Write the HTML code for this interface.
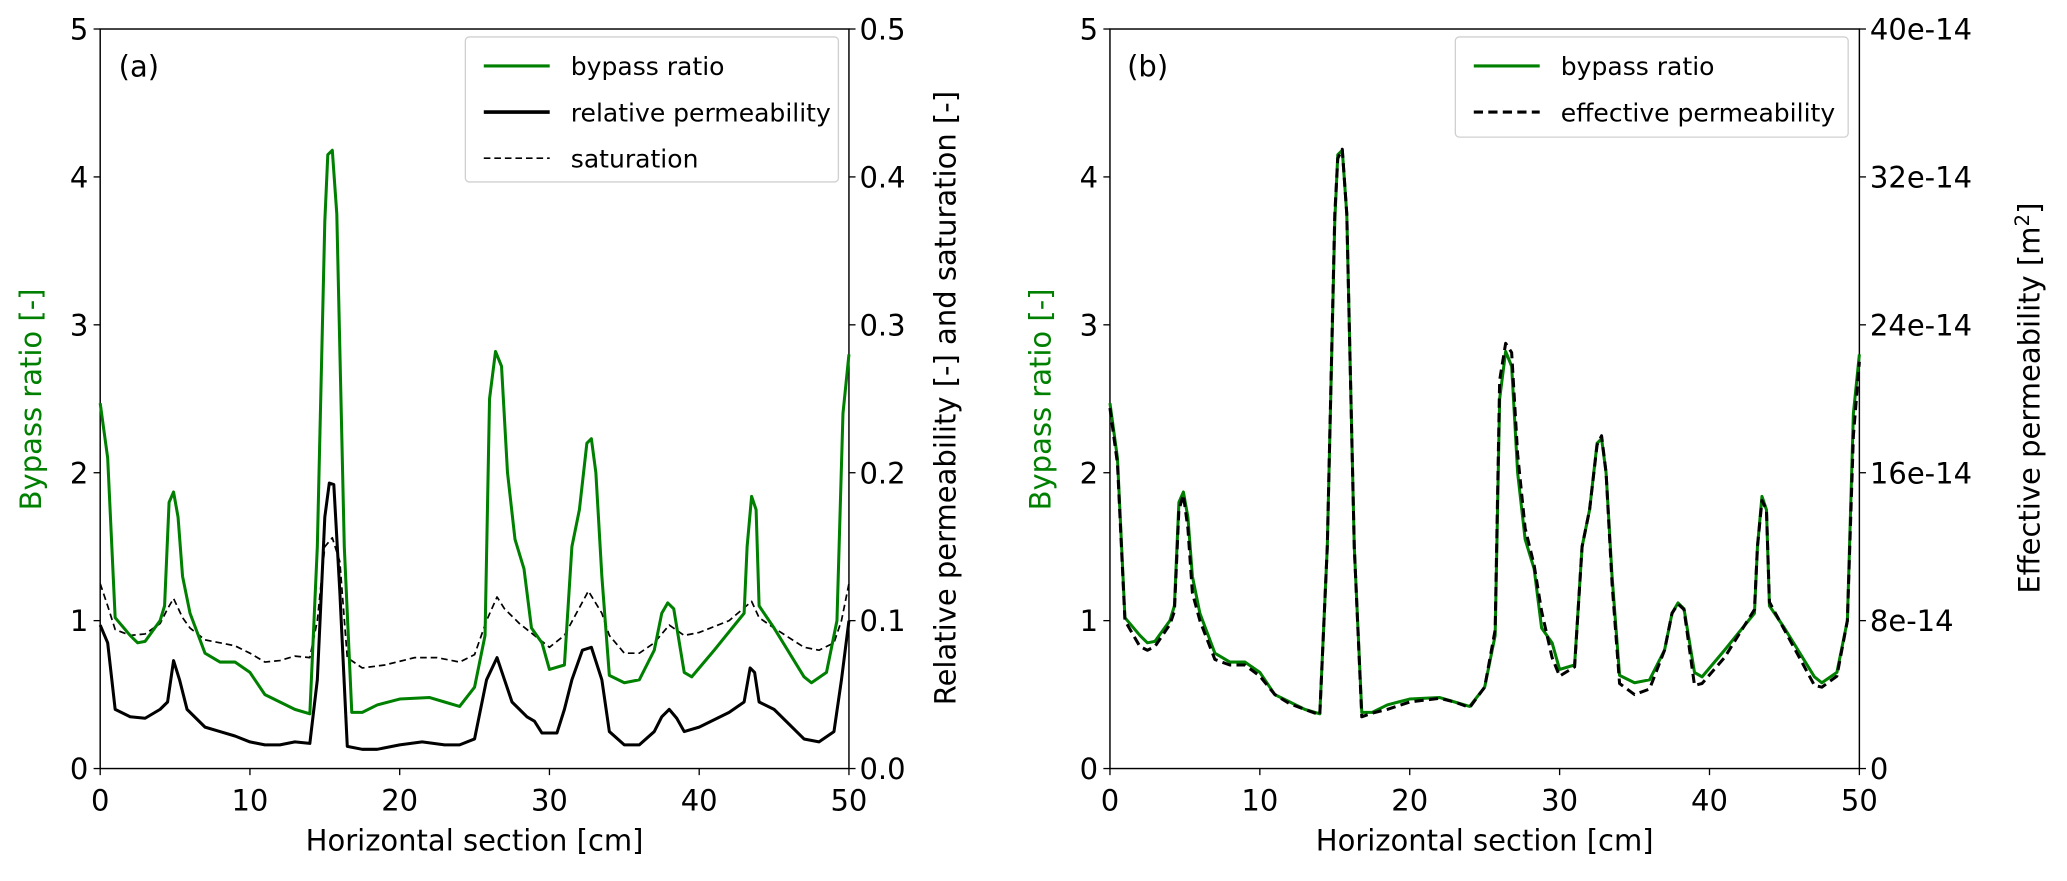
<!DOCTYPE html>
<html><head><meta charset="utf-8"><style>
html,body{margin:0;padding:0;background:#fff;}
svg{display:block;font-family:"DejaVu Sans","Liberation Sans",sans-serif;}
</style></head><body>
<svg id="fig" width="2067" height="881" viewBox="0 0 1568 668.3">
<g id="root"></g>
</svg>
<script>
const xA=[0,0.5,1,2,2.5,3,4,4.3,4.6,4.9,5.2,5.5,6,7,8,9,10,11,12,13,14,14.5,15,15.2,15.5,15.8,16.3,16.8,17.5,18.5,20,22,23,24,25,25.7,26,26.4,26.8,27.2,27.7,28.3,28.8,29.5,30,31,31.5,32,32.5,32.8,33.1,33.5,34,35,36,37,37.5,37.9,38.3,39,39.5,41,43,43.2,43.5,43.8,44,45,47,47.5,48.5,49.2,49.6,50];
const bypass=[2.47,2.1,1.02,0.9,0.85,0.86,1.0,1.1,1.8,1.87,1.7,1.3,1.05,0.78,0.72,0.72,0.65,0.5,0.45,0.4,0.37,1.5,3.7,4.15,4.18,3.75,1.5,0.38,0.38,0.43,0.47,0.48,0.45,0.42,0.55,0.9,2.5,2.82,2.72,2.0,1.55,1.35,0.95,0.85,0.67,0.7,1.5,1.75,2.2,2.23,2.0,1.3,0.63,0.58,0.6,0.8,1.05,1.12,1.08,0.65,0.62,0.8,1.05,1.5,1.84,1.75,1.1,0.95,0.62,0.58,0.65,1.0,2.4,2.8];
const xR=[0,0.5,1,2,3,4,4.5,4.9,5.3,5.8,7,8,9,10,11,12,13,14,14.5,15,15.3,15.6,16,16.5,17.5,18.5,20,21.5,23,24,25,25.8,26.5,27,27.5,28,28.5,29,29.5,30.5,31,31.5,32.2,32.8,33.5,34,35,36,37,37.5,38,38.5,39,40,42,43,43.4,43.7,44,45,47,48,49,49.5,50];
const relPerm=[0.097,0.085,0.04,0.035,0.034,0.04,0.045,0.073,0.06,0.04,0.028,0.025,0.022,0.018,0.016,0.016,0.018,0.017,0.06,0.17,0.193,0.192,0.12,0.015,0.013,0.013,0.016,0.018,0.016,0.016,0.02,0.06,0.075,0.06,0.045,0.04,0.035,0.032,0.024,0.024,0.04,0.06,0.08,0.082,0.06,0.025,0.016,0.016,0.025,0.035,0.04,0.034,0.025,0.028,0.038,0.045,0.068,0.065,0.045,0.04,0.02,0.018,0.025,0.06,0.1];
const xS=[0,0.5,1,2,3,4,4.5,4.9,5.5,6,7,8,9,10,11,12,13,14,14.5,15,15.5,16,16.5,17.5,19,21,22.5,24,25,25.8,26.5,27,28,29,30,31,31.8,32.6,33.5,34,35,36,37,38,39,40,42,43.5,44,45,47,48,49,49.5,50];
const saturation=[0.125,0.11,0.094,0.09,0.091,0.098,0.108,0.115,0.102,0.095,0.087,0.085,0.083,0.078,0.072,0.073,0.076,0.075,0.1,0.15,0.156,0.14,0.075,0.068,0.07,0.075,0.075,0.072,0.077,0.1,0.116,0.108,0.098,0.09,0.082,0.09,0.105,0.12,0.105,0.09,0.078,0.078,0.085,0.097,0.09,0.092,0.1,0.113,0.102,0.095,0.082,0.08,0.085,0.1,0.125];
const effPerm=[19.5,16.5,8,6.6,6.4,6.6,7.8,8.5,14,14.8,13,9.5,8,5.9,5.6,5.6,5,4,3.5,3.2,2.9,12,30,33,33.5,30,12,2.8,3,3.2,3.6,3.8,3.6,3.3,4.4,7.5,21,23,22.5,17,13,11,8.5,6,5,5.5,12,14,17.5,18,16,10,4.6,4,4.3,6.4,8.4,8.9,8.6,4.5,4.6,6,8.6,12,14.5,14,9,7.5,4.5,4.4,5,8,18,22];
const xTicks=[0,10,20,30,40,50];
const yTicksL=[0,1,2,3,4,5];
const yTicksRa=["0.0","0.1","0.2","0.3","0.4","0.5"];
const yTicksRb=["0","8e-14","16e-14","24e-14","32e-14","40e-14"];

const NS="http://www.w3.org/2000/svg";
const root=document.getElementById('root');
function mk(tag,attrs,parent,txt){const e=document.createElementNS(NS,tag);for(const k in attrs)e.setAttribute(k,attrs[k]);if(txt!==undefined)e.textContent=txt;(parent||root).appendChild(e);return e;}
const TOP=22,BOT=583;
function panel(x0,x1){return {x:v=>x0+(v/50)*(x1-x0),y:v=>BOT-(v/5)*(BOT-TOP),x0,x1};}
function path(p,xs,ys,scale,attrs,name){let d='';for(let i=0;i<xs.length;i++){d+=(i?'L':'M')+p.x(xs[i]).toFixed(2)+','+p.y(ys[i]*scale).toFixed(2);}const e=mk('path',Object.assign({d,fill:'none','stroke-linejoin':'round'},attrs));


return e;}
function axes(p,rightLabels,tag){
  const g=mk('g',{});
  
  
  mk('rect',{x:p.x0,y:TOP,width:p.x1-p.x0,height:BOT-TOP,fill:'none',stroke:'#000','stroke-width':1.1},g);
  xTicks.forEach(v=>{const X=p.x(v);mk('line',{x1:X,x2:X,y1:BOT,y2:BOT+5,stroke:'#000'},g);
    const t=mk('text',{x:X,y:BOT+32,'font-size':22,'text-anchor':'middle'},g,String(v));
    
    });
  yTicksL.forEach((v,i)=>{const Y=p.y(v);mk('line',{x1:p.x0-5,x2:p.x0,y1:Y,y2:Y,stroke:'#000'},g);
    const t=mk('text',{x:p.x0-9,y:Y+8,'font-size':22,'text-anchor':'end'},g,String(v));
    
    
    mk('line',{x1:p.x1,x2:p.x1+5,y1:Y,y2:Y,stroke:'#000'},g);
    const r=mk('text',{x:p.x1+8,y:Y+8,'font-size':22,'text-anchor':'start'},g,rightLabels[i]);
    
    });
  const xl=mk('text',{x:(p.x0+p.x1)/2,y:BOT+62,'font-size':22,'text-anchor':'middle'},g,'Horizontal section [cm]');
  
  
}
const A=panel(76,644), B=panel(842,1410.5);
axes(A,yTicksRa,'panel-a');
axes(B,yTicksRb,'panel-b');
path(A,xS,saturation,10,{stroke:'#000','stroke-width':1.3,'stroke-dasharray':'5,3'},'saturation-line');
path(A,xR,relPerm,10,{stroke:'#000','stroke-width':2.3},'relative-permeability-line');
path(A,xA,bypass,1,{stroke:'#008000','stroke-width':2.3},'bypass-ratio-line-a');
path(B,xA,bypass,1,{stroke:'#008000','stroke-width':2.3},'bypass-ratio-line-b');
path(B,xA,effPerm,1/8,{stroke:'#000','stroke-width':2.3,'stroke-dasharray':'7,4'},'effective-permeability-line');
</script>
<script>
(function(){
const NS="http://www.w3.org/2000/svg";const svg=document.getElementById('fig');
function t(x,y,s,str,name,extra){const e=document.createElementNS(NS,'text');e.setAttribute('x',x);e.setAttribute('y',y);e.setAttribute('font-size',s);for(const k in (extra||{}))e.setAttribute(k,extra[k]);e.textContent=str;


svg.appendChild(e);return e;}
t(90,58,22,'(a)','panel-a-label');
t(855,58,22,'(b)','panel-b-label');
t(31,303,22,'Bypass ratio [-]','y-axis-title-left-a',{fill:'#008000','text-anchor':'middle',transform:'rotate(-90 31 303)'});
t(725,302,22,'Relative permeability [-] and saturation [-]','y-axis-title-right-a',{'text-anchor':'middle',transform:'rotate(-90 725 302)'});
t(797,303,22,'Bypass ratio [-]','y-axis-title-left-b',{fill:'#008000','text-anchor':'middle',transform:'rotate(-90 797 303)'});
const ep=t(1547,302,22,'Effective permeability [m','y-axis-title-right-b',{'text-anchor':'middle',transform:'rotate(-90 1547 302)'});
const sp=document.createElementNS(NS,'tspan');sp.setAttribute('font-size',15);sp.setAttribute('dy',-8);sp.textContent='2';ep.appendChild(sp);
const sp2=document.createElementNS(NS,'tspan');sp2.setAttribute('dy',8);sp2.textContent=']';ep.appendChild(sp2);
function legend(x,y,w,h,items,name){const g=document.createElementNS(NS,'g');


svg.appendChild(g);
const r=document.createElementNS(NS,'rect');r.setAttribute('x',x);r.setAttribute('y',y);r.setAttribute('width',w);r.setAttribute('height',h);r.setAttribute('rx',3);r.setAttribute('fill','#fff');r.setAttribute('fill-opacity','0.85');r.setAttribute('stroke','#d0d0d0');g.appendChild(r);
items.forEach((it,i)=>{const yy=y+22+i*35;const l=document.createElementNS(NS,'line');l.setAttribute('x1',x+14);l.setAttribute('x2',x+64);l.setAttribute('y1',yy);l.setAttribute('y2',yy);l.setAttribute('stroke',it.c);l.setAttribute('stroke-width',it.w);if(it.d)l.setAttribute('stroke-dasharray',it.d);g.appendChild(l);
const tx=document.createElementNS(NS,'text');tx.setAttribute('x',x+80);tx.setAttribute('y',yy+7);tx.setAttribute('font-size',19);tx.textContent=it.t;


g.appendChild(tx);});}
legend(353,28,283,110,[{c:'#008000',w:2.3,t:'bypass ratio'},{c:'#000',w:2.8,t:'relative permeability'},{c:'#000',w:1.3,d:'5,3',t:'saturation'}],'legend-a');
legend(1104,28,298,76,[{c:'#008000',w:2.3,t:'bypass ratio'},{c:'#000',w:2.3,d:'7,4',t:'effective permeability'}],'legend-b');
})();
</script>
</body></html>
